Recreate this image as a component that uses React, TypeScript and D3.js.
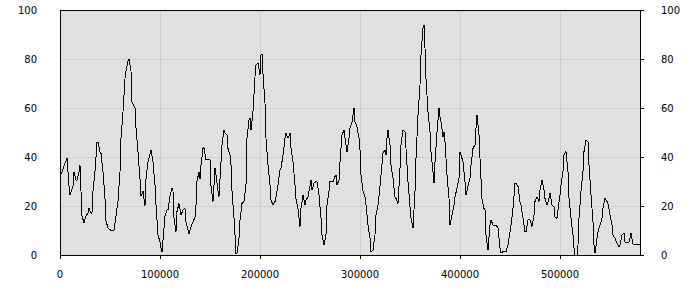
import React from "react";
import * as d3 from "d3";

// x positions in thousands
const xsK: number[] = [
  0,3,5,7,8,9,10,13,14,16,17,19,20,21,22,24,26,28,29,31,32,33,35,37,38,40,41,43,45,46,48,51,54,56,58,60,61,63,65,66,68,69,71,72,75,76,78,80,81,83,85,86,88,91,93,95,96,98,100,101,102,105,107,108,110,112,113,114,116,117,119,121,123,125,126,129,131,135,136,137,139,140,141,143,144,146,148,150,151,153,155,156,158,159,161,162,164,165,167,168,170,171,172,174,175,176,177,179,180,182,184,186,187,189,190,191,193,195,196,198,200,201,202,203,205,206,208,210,211,213,215,216,218,220,221,223,225,226,228,230,231,233,235,236,238,240,241,243,245,246,248,250,251,252,254,256,257,259,261,262,264,266,267,269,270,273,275,276,277,279,280,282,284,285,287,289,290,292,294,295,297,299,300,301,303,305,306,308,310,311,313,315,316,318,320,321,323,325,326,327,328,330,331,333,335,336,338,340,341,343,345,346,348,350,351,353,355,356,358,360,361,363,364,365,366,368,370,371,373,374,375,377,379,380,381,383,384,385,387,389,390,392,394,395,397,399,400,401,403,405,406,408,410,411,413,415,416,417,419,420,422,424,425,426,428,430,431,433,436,438,440,441,443,446,448,450,451,453,455,456,458,460,461,463,465,466,468,470,472,474,475,477,479,480,482,484,485,487,489,490,492,494,495,497,499,500,501,503,504,506,508,509,511,513,514,515,517,518,519,521,523,524,526,528,529,531,533,534,535,537,538,540,542,543,545,547,548,550,552,553,555,557,559,560,562,564,565,569,571,573,574,580
];
const values: number[] = [
  32,35,37.5,39.5,34,28,24.5,28,34,30.5,30.5,34,36.5,26,16,13,16,17,19,17,17.5,26,34,46,46,42,41.5,34,23,14,11,10,10,16,22,34,47.5,58.5,72,75,79,80,75,62.5,60,52,42,31,24,26,20,31,38,43,38,28.5,20.5,8,5.5,2.7,1.3,16,18.4,18.4,24,27.2,26,15,9.5,17.7,21,16.3,18.4,19,13.6,8.5,11.5,15.5,20.4,30,34,31,36.7,43.5,43.8,38.8,38.8,38.8,28,21.8,35.4,32.7,26,23.8,38,45,51,49.7,49,43.5,40.8,36.7,26,15,8.2,0.7,0.7,6.8,14.3,21,21.8,28.6,47.6,55,55.8,51,58.5,72.8,77.6,78.2,73.5,81.6,82,74,62,47.6,36.7,28.6,22.4,20.4,21.8,23.8,28.6,34.7,35.4,40.8,47.6,49.7,47.6,49.7,43.5,38,28.6,23,19,11.6,19,24.5,20.4,22.4,23.8,28,30.6,26.5,29.3,30,30,24.5,15,8.2,4,8.2,20.4,26,30,30,32,32.7,28.6,30.6,38,49,51,47.6,42,47.6,51.7,54.4,60,54.4,52.4,47.6,43,32.7,26,23.8,20.4,12.2,6.8,1.4,2,8.2,16.3,20.4,28,32.7,41.5,43,40.8,47.6,51,45,36.7,31.3,23.8,23.1,21,35.4,45,51,50.3,43.5,30,19.7,15,11,26,39.5,57,69.4,81.6,92.5,94,84.4,72,58.5,50.3,42.2,34,29.3,38,50.3,60,56.5,54.4,48.3,50.3,46.3,32.7,23.1,12.2,16.3,20.4,23.8,27.2,31.3,42,40.8,38,30,24.5,28,31.3,36.7,43.5,45,51.7,57,49,39.5,23,19,18.4,8.2,2,12.2,14.3,12.2,12.2,11,2.7,0.7,1.4,1.4,4,9.5,12.2,19,29.3,29.3,28,21.8,20.4,15,9.5,9.5,14.3,14.3,11.6,16.3,21.8,23.8,21.8,26.5,30.6,26.5,23.1,20.4,23.1,25.2,20.4,19.7,15.6,15,21.8,24.5,28.6,34,40.8,42.2,34,23.1,15,8.2,2.7,0,0,4.1,15,25.9,34,42.2,46.9,46.3,36.7,24.5,13.6,4.1,0.7,6.8,9.5,12.2,15,19,23.1,21.8,21,16.3,12.2,8.2,6.8,4.8,3.4,4.1,8.2,8.8,5.2,5.2,8.8,4.4,4.1,4.1
];
const xTicks: number[] = [0, 100000, 200000, 300000, 400000, 500000];
const yTicks: number[] = [0, 20, 40, 60, 80, 100];

const W = 700, H = 300;
const L = 60, R = 640, T = 10, B = 255;

export default function App() {
  const x = d3.scaleLinear().domain([0, 580000]).range([L, R]);
  const y = d3.scaleLinear().domain([0, 100]).range([B, T]);
  const pts: [number, number][] = xsK.map((k, i) => [k * 1000, values[i]]);
  const line = d3.line<[number, number]>().x(d => x(d[0])).y(d => y(d[1]));
  const font = { fontFamily: "DejaVu Sans", fontSize: 10, fill: "#000" };
  return (
    <svg width={W} height={H} style={{ position: "absolute", left: 0, top: 0 }}>
      <rect x={L} y={T} width={R - L} height={B - T} fill="#e0e0e0" />
      {xTicks.slice(1).map(t => (
        <line key={"gx" + t} x1={Math.round(x(t)) + 0.5} x2={Math.round(x(t)) + 0.5} y1={T} y2={B} stroke="#cfcfcf" />
      ))}
      {yTicks.slice(1, -1).map(t => (
        <line key={"gy" + t} x1={L} x2={R} y1={Math.round(y(t)) + 0.5} y2={Math.round(y(t)) + 0.5} stroke="#cfcfcf" />
      ))}
      <path d={line(pts) || ""} fill="none" stroke="#000" strokeWidth={1} shapeRendering="crispEdges" />
      <line x1={L} x2={R} y1={T + 0.5} y2={T + 0.5} stroke="#000" />
      <line x1={L} x2={R + 0.5} y1={B + 0.5} y2={B + 0.5} stroke="#000" />
      <line x1={L + 0.5} x2={L + 0.5} y1={T} y2={B + 1} stroke="#000" />
      <line x1={R + 0.5} x2={R + 0.5} y1={T} y2={B + 1} stroke="#000" />
      {xTicks.map(t => (
        <g key={"xt" + t}>
          <line x1={Math.round(x(t)) + 0.5} x2={Math.round(x(t)) + 0.5} y1={B} y2={B + 4} stroke="#000" />
          <text x={x(t)} y={278} textAnchor="middle" style={font}>{t}</text>
        </g>
      ))}
      {yTicks.map(t => (
        <g key={"yt" + t}>
          <line x1={R} x2={R + 4} y1={Math.round(y(t)) + 0.5} y2={Math.round(y(t)) + 0.5} stroke="#000" />
          <text x={37} y={y(t)} dy="0.35em" textAnchor="end" style={font}>{t}</text>
          <text x={661} y={y(t)} dy="0.35em" textAnchor="start" style={font}>{t}</text>
        </g>
      ))}
    </svg>
  );
}
